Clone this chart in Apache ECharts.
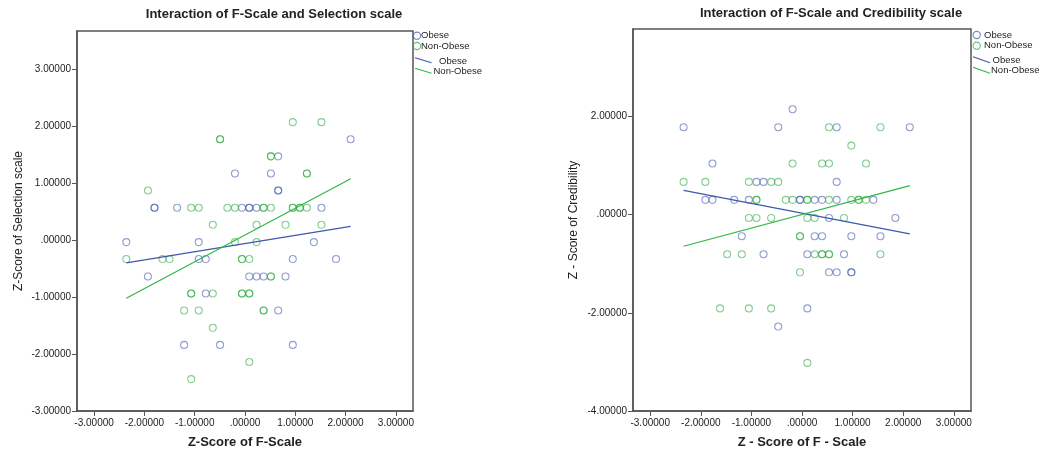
<!DOCTYPE html>
<html>
<head>
<meta charset="utf-8">
<script src="https://cdn.jsdelivr.net/npm/echarts@6/dist/echarts.min.js"></script>
<style>
html,body{margin:0;padding:0;background:#fff;}
#chart{width:1041px;height:452px;}
</style>
</head>
<body>
<div id="chart"></div>
<script>
// ---------- Data ----------
var xTicks = [-3, -2, -1, 0, 1, 2, 3];
var yTicksLeft = [-3, -2, -1, 0, 1, 2, 3];
var yTicksRight = [-4, -2, 0, 2];

// Left chart: F-Scale vs Selection scale
var selObese = [
  [2.10,1.77],[0.66,1.47],[-0.20,1.17],[0.515,1.17],[0.66,0.87],[0.66,0.87],
  [-1.80,0.567],[-1.80,0.567],[-1.35,0.567],[-0.06,0.567],[0.085,0.567],[0.085,0.567],
  [0.23,0.567],[1.52,0.567],[-2.36,-0.035],[-0.92,-0.035],[1.37,-0.035],
  [-0.92,-0.333],[-0.78,-0.333],[0.95,-0.333],[1.81,-0.333],
  [-1.93,-0.638],[0.085,-0.638],[0.23,-0.638],[0.37,-0.638],[0.806,-0.638],
  [-0.78,-0.937],[0.66,-1.235],[-1.21,-1.84],[-0.495,-1.84],[0.95,-1.84]
];
var selNonObese = [
  [0.95,2.07],[1.52,2.07],[-0.495,1.77],[-0.495,1.77],[0.515,1.47],[0.515,1.47],
  [1.23,1.17],[1.23,1.17],[-1.93,0.87],[-1.07,0.567],[-0.92,0.567],[-0.35,0.567],
  [-0.20,0.567],[0.37,0.567],[0.37,0.567],[0.515,0.567],[0.95,0.567],[0.95,0.567],
  [1.09,0.567],[1.09,0.567],[1.23,0.567],[-0.64,0.268],[0.23,0.268],[0.806,0.268],
  [1.52,0.268],[-0.20,-0.035],[0.23,-0.035],[-2.36,-0.333],[-1.64,-0.333],[-1.50,-0.333],
  [-0.06,-0.333],[-0.06,-0.333],[0.085,-0.333],[0.515,-0.638],[0.515,-0.638],
  [-1.07,-0.937],[-1.07,-0.937],[-0.64,-0.937],[-0.06,-0.937],[-0.06,-0.937],
  [0.085,-0.937],[0.085,-0.937],[-1.21,-1.235],[-0.92,-1.235],[0.37,-1.235],[0.37,-1.235],
  [-0.64,-1.54],[0.085,-2.14],[-1.07,-2.44]
];
var selFitObese = [[-2.36,-0.40],[2.10,0.24]];
var selFitNonObese = [[-2.36,-1.02],[2.10,1.075]];

// Right chart: F-Scale vs Credibility scale
var credObese = [
  [-0.186,2.145],[-2.34,1.78],[-0.47,1.78],[0.685,1.78],[2.13,1.78],[-1.77,1.04],
  [-0.90,0.666],[-0.76,0.666],[0.685,0.666],[-1.91,0.30],[-1.77,0.30],[-1.34,0.30],
  [-1.05,0.30],[-0.04,0.30],[-0.04,0.30],[0.25,0.30],[0.396,0.30],[0.685,0.30],[1.41,0.30],
  [0.534,-0.068],[1.845,-0.068],[-1.19,-0.44],[0.25,-0.44],[0.396,-0.44],[0.975,-0.44],
  [1.55,-0.44],[-0.76,-0.808],[0.105,-0.808],[0.83,-0.808],[0.534,-1.175],[0.685,-1.175],
  [0.975,-1.175],[0.975,-1.175],[0.105,-1.91],[-0.47,-2.28]
];
var credNonObese = [
  [0.534,1.78],[1.55,1.78],[0.975,1.405],[-0.186,1.04],[0.396,1.04],[0.534,1.04],[1.265,1.04],
  [-2.34,0.666],[-1.91,0.666],[-1.05,0.666],[-0.61,0.666],[-0.47,0.666],
  [-0.90,0.30],[-0.90,0.30],[-0.32,0.30],[-0.186,0.30],[0.105,0.30],[0.105,0.30],[0.534,0.30],
  [0.975,0.30],[1.12,0.30],[1.12,0.30],[1.265,0.30],
  [-1.05,-0.068],[-0.90,-0.068],[-0.61,-0.068],[0.105,-0.068],[0.25,-0.068],[0.83,-0.068],
  [-0.04,-0.44],[-0.04,-0.44],[-1.48,-0.808],[-1.19,-0.808],[0.25,-0.808],[0.396,-0.808],
  [0.396,-0.808],[0.534,-0.808],[0.534,-0.808],[1.55,-0.808],[-0.04,-1.175],
  [-1.62,-1.91],[-1.05,-1.91],[-0.61,-1.91],[0.105,-3.02]
];
var credFitObese = [[-2.34,0.495],[2.13,-0.393]];
var credFitNonObese = [[-2.34,-0.645],[2.13,0.59]];

// ---------- Styles ----------
var FONT = 'Liberation Sans, Arial, sans-serif';
var BLUE_PT = 'rgba(62,88,172,0.72)';
var GREEN_PT = 'rgba(44,170,64,0.72)';
var BLUE_LN = '#3e58ac';
var GREEN_LN = '#2eb848';
var AX = '#555';

function fmt(v){
  var s = Math.abs(v).toFixed(5);
  if (s.charAt(0) === '0') s = s.slice(1);
  return (v < 0 ? '-' : '') + s;
}

function xAxis(grid, name){
  return {
    type:'value', gridIndex:grid, min:-3.34, max:3.34,
    name:name, nameLocation:'middle', nameGap:25,
    nameTextStyle:{fontFamily:FONT, fontSize:13, fontWeight:'bold', color:'#222'},
    axisLine:{show:true, onZero:false, lineStyle:{color:AX, width:1.5}},
    axisTick:{show:true, length:5, customValues:xTicks, lineStyle:{color:AX, width:1}},
    axisLabel:{customValues:xTicks, formatter:fmt, margin:7, fontFamily:FONT, fontSize:10, color:'#222'},
    splitLine:{show:false}
  };
}
function yAxis(grid, name, min, max, ticks, gap){
  return {
    type:'value', gridIndex:grid, min:min, max:max,
    name:name, nameLocation:'middle', nameGap:gap,
    nameTextStyle:{fontFamily:FONT, fontSize:12, color:'#222'},
    axisLine:{show:true, onZero:false, lineStyle:{color:AX, width:1.5}},
    axisTick:{show:true, length:5, customValues:ticks, lineStyle:{color:AX, width:1}},
    axisLabel:{customValues:ticks, formatter:fmt, margin:6, fontFamily:FONT, fontSize:10, color:'#222'},
    splitLine:{show:false}
  };
}
function scatter(name, data, color, idx){
  return {
    type:'scatter', name:name, xAxisIndex:idx, yAxisIndex:idx, data:data,
    symbol:'circle', symbolSize:7,
    itemStyle:{color:'rgba(0,0,0,0)', borderColor:color, borderWidth:1.1},
    silent:true
  };
}
function fit(name, data, color, idx){
  return {
    type:'line', name:name, xAxisIndex:idx, yAxisIndex:idx, data:data,
    showSymbol:false, symbol:'none', lineStyle:{color:color, width:1.2}, silent:true
  };
}
function txt(x, y, s, size, bold, align){
  return {type:'text', x:x, y:y, silent:true,
    style:{text:s, fill:'#222', font:(bold?'bold ':'') + size + 'px ' + FONT,
      textAlign:align || 'left', textVerticalAlign:'middle'}};
}
function circ(cx, cy, color){
  return {type:'circle', shape:{cx:cx, cy:cy, r:3.6}, silent:true,
    style:{fill:'none', stroke:color, lineWidth:1.1}};
}
function seg(x1, y1, x2, y2, color){
  return {type:'line', shape:{x1:x1, y1:y1, x2:x2, y2:y2}, silent:true,
    style:{stroke:color, lineWidth:1.2}};
}

var chart = echarts.init(document.getElementById('chart'), null, {renderer:'canvas'});
chart.setOption({
  animation:false,
  backgroundColor:'#fff',
  grid:[
    {left:77, top:31, width:336, height:380, show:true, borderColor:AX, borderWidth:1.5,
     backgroundColor:'#fff', containLabel:false, outerBoundsMode:'none'},
    {left:633, top:29, width:338, height:382, show:true, borderColor:AX, borderWidth:1.5,
     backgroundColor:'#fff', containLabel:false, outerBoundsMode:'none'}
  ],
  xAxis:[xAxis(0, 'Z-Score of F-Scale'), xAxis(1, 'Z - Score of F - Scale')],
  yAxis:[
    yAxis(0, 'Z-Score of Selection scale', -3, 3.67, yTicksLeft, 52),
    yAxis(1, 'Z - Score of Credibility', -4, 3.78, yTicksRight, 53)
  ],
  series:[
    scatter('Obese', selObese, BLUE_PT, 0),
    scatter('Non-Obese', selNonObese, GREEN_PT, 0),
    fit('Obese fit', selFitObese, BLUE_LN, 0),
    fit('Non-Obese fit', selFitNonObese, GREEN_LN, 0),
    scatter('Obese', credObese, BLUE_PT, 1),
    scatter('Non-Obese', credNonObese, GREEN_PT, 1),
    fit('Obese fit', credFitObese, BLUE_LN, 1),
    fit('Non-Obese fit', credFitNonObese, GREEN_LN, 1)
  ],
  graphic:[
    txt(274, 14, 'Interaction of F-Scale and Selection scale', 13, true, 'center'),
    txt(831, 13.5, 'Interaction of F-Scale and Credibility scale', 13, true, 'center'),
    // left legend
    circ(417, 35.7, BLUE_PT), txt(421, 35.7, 'Obese', 9.5),
    circ(417, 46, GREEN_PT), txt(421, 46, 'Non-Obese', 9.5),
    seg(415, 57.7, 431.5, 62.7, BLUE_LN), txt(439, 61, 'Obese', 9.5),
    seg(415, 68.3, 431.5, 73.3, GREEN_LN), txt(433.5, 71.5, 'Non-Obese', 9.5),
    // right legend
    circ(976.7, 35, BLUE_PT), txt(984, 35, 'Obese', 9.5),
    circ(976.7, 45.7, GREEN_PT), txt(984, 45.7, 'Non-Obese', 9.5),
    seg(973, 56.7, 990, 62.7, BLUE_LN), txt(992.5, 60, 'Obese', 9.5),
    seg(973, 67.3, 990, 73.3, GREEN_LN), txt(991, 70.7, 'Non-Obese', 9.5)
  ]
});
</script>
</body>
</html>
